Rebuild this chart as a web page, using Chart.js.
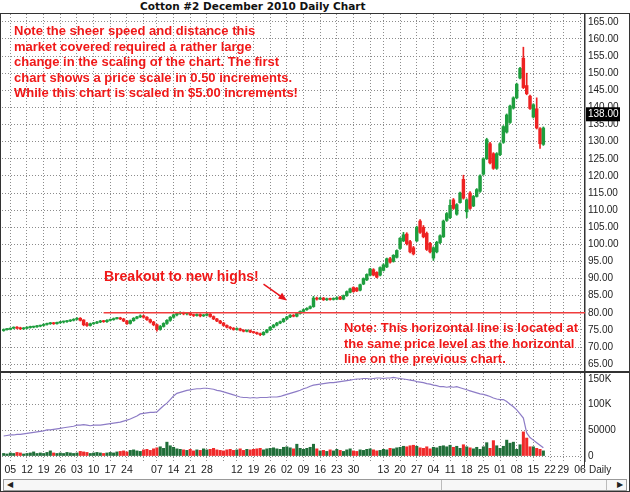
<!DOCTYPE html>
<html>
<head>
<meta charset="utf-8">
<script src="https://cdn.jsdelivr.net/npm/chart.js@4.4.1/dist/chart.umd.min.js"></script>
<style>
body { margin:0; background:#fff; }
#wrap { position:relative; width:630px; height:492px; overflow:hidden; font-family:'Liberation Sans', Arial, sans-serif; }
#title { position:absolute; left:140px; top:0; white-space:nowrap; font:bold 10.5px 'DejaVu Sans', Verdana, sans-serif; line-height:13px; color:#111; }
canvas { position:absolute; left:0; }
#price { top:14px; }
#vol { top:373px; }
.note { position:absolute; color:#f01818; font:bold 13px 'Liberation Sans', Arial, sans-serif; line-height:15.6px; white-space:nowrap; }
.line { position:absolute; background:#333; }
#daily { position:absolute; left:589px; top:464px; font:10px 'Liberation Sans', Arial, sans-serif; color:#222; }
#scroll { position:absolute; left:3px; top:479px; width:622px; height:10px; border:1px solid #999; background:#f7f7f7; font-size:8px; line-height:10px; color:#222; }
</style>
</head>
<body>
<div id="wrap">
  <div id="title">Cotton #2 December 2010 Daily Chart</div>
  <canvas id="price" width="630" height="358"></canvas>
  <canvas id="vol" width="630" height="105"></canvas>
  <div class="line" style="left:0;top:13px;width:630px;height:1px"></div>
  <div class="line" style="left:0;top:371px;width:630px;height:2px"></div>
  <div class="line" style="left:0;top:13px;width:1px;height:479px"></div>
  <div class="line" style="left:629px;top:13px;width:1px;height:479px"></div>
  <div class="line" style="left:584px;top:373px;width:1px;height:95px"></div>
  <div class="line" style="left:0;top:491px;width:630px;height:1px"></div>
  <div class="note" style="left:14px;top:23px">Note the sheer speed and distance this<br>market covered required a rather large<br>change in the scaling of the chart. The first<br>chart shows a price scale in 0.50 increments.<br>While this chart is scaled in $5.00 increments!</div>
  <div class="note" style="left:104px;top:269px;font-size:14px">Breakout to new highs!</div>
  <div class="note" style="left:344px;top:320px">Note: This horizontal line is located at<br>the same price level as the horizontal<br>line on the previous chart.</div>
  <div id="daily">Daily</div>
  <div id="scroll">
    <span style="position:absolute;left:3px;top:0">&#9664;</span>
    <span style="position:absolute;left:437px;top:0;width:1px;height:10px;background:#bbb"></span>
    <span style="position:absolute;left:602px;top:0;width:1px;height:10px;background:#bbb"></span>
    <span style="position:absolute;right:3px;top:0">&#9654;</span>
  </div>
</div>
<script>
// trading days, Mar 31 to Dec 7 2010 (holidays have no slot)
const dates = [
  '03-31','04-01','04-05','04-06','04-07','04-08','04-09','04-12','04-13','04-14','04-15','04-16',
  '04-19','04-20','04-21','04-22','04-23','04-26','04-27','04-28','04-29','04-30',
  '05-03','05-04','05-05','05-06','05-07','05-10','05-11','05-12','05-13','05-14',
  '05-17','05-18','05-19','05-20','05-21','05-24','05-25','05-26','05-27','05-28',
  '06-01','06-02','06-03','06-04','06-07','06-08','06-09','06-10','06-11','06-14','06-15','06-16','06-17','06-18',
  '06-21','06-22','06-23','06-24','06-25','06-28','06-29','06-30',
  '07-01','07-02','07-06','07-07','07-08','07-09','07-12','07-13','07-14','07-15','07-16',
  '07-19','07-20','07-21','07-22','07-23','07-26','07-27','07-28','07-29','07-30',
  '08-02','08-03','08-04','08-05','08-06','08-09','08-10','08-11','08-12','08-13',
  '08-16','08-17','08-18','08-19','08-20','08-23','08-24','08-25','08-26','08-27','08-30','08-31',
  '09-01','09-02','09-03','09-07','09-08','09-09','09-10','09-13','09-14','09-15','09-16','09-17',
  '09-20','09-21','09-22','09-23','09-24','09-27','09-28','09-29','09-30',
  '10-01','10-04','10-05','10-06','10-07','10-08','10-11','10-12','10-13','10-14','10-15',
  '10-18','10-19','10-20','10-21','10-22','10-25','10-26','10-27','10-28','10-29',
  '11-01','11-02','11-03','11-04','11-05','11-08','11-09','11-10','11-11','11-12',
  '11-15','11-16','11-17','11-18','11-19','11-22','11-23','11-24','11-26','11-29','11-30',
  '12-01','12-02','12-03','12-06','12-07'
];

const open = [
  74.8,75.1,75.2,75.5,75.8,75.6,75.3,75.5,75.7,75.8,
  75.9,76.1,76.3,76.6,76.8,77.0,76.8,77.1,77.3,77.4,
  77.6,77.8,78.1,78.4,77.9,76.8,76.3,76.8,77.0,77.3,
  77.6,77.4,77.8,78.0,78.3,78.5,78.2,77.6,76.9,77.7,
  78.4,78.8,79.1,78.7,78.0,77.3,76.5,75.2,76.0,76.9,
  77.8,78.7,79.4,79.8,80.0,79.7,79.9,79.4,79.2,79.5,
  79.1,79.3,79.6,78.9,78.2,77.6,77.0,76.3,75.8,75.5,
  75.1,75.3,74.9,74.6,74.8,74.4,74.2,73.9,73.6,74.3,
  75.0,75.8,76.4,77.0,77.4,78.2,78.8,79.3,79.0,79.8,
  80.4,80.9,81.3,81.8,84.3,84.0,84.3,83.8,84.1,83.9,
  84.0,84.6,84.0,85.0,86.0,87.4,87.2,86.6,88.4,89.6,
  91.0,92.6,91.8,91.0,92.4,93.4,95.8,95.0,96.2,98.8,
  101.0,103.0,100.8,99.0,101.0,106.8,105.0,103.2,100.3,96.0,
  97.8,100.5,102.2,107.0,107.8,113.0,108.8,112.2,119.0,109.5,
  115.0,111.2,114.0,115.5,120.5,125.0,129.4,126.5,122.2,126.2,
  129.8,132.8,135.6,139.8,142.8,148.6,154.4,146.4,143.3,137.2,
  139.6,133.8,129.2
];
const high = [
  75.3,75.4,75.6,75.9,76.0,75.8,75.7,75.9,76.1,76.1,
  76.3,76.4,76.8,77.0,77.2,77.2,77.3,77.5,77.6,77.8,
  78.0,78.3,78.6,78.6,78.0,77.2,77.0,77.2,77.5,77.8,
  77.8,78.0,78.2,78.5,78.7,78.7,78.4,77.8,77.9,78.6,
  79.0,79.4,79.3,78.9,78.2,77.5,76.7,76.3,77.1,78.0,
  78.9,79.6,80.1,80.3,80.2,80.1,80.0,79.6,79.7,79.7,
  79.5,79.9,79.8,79.1,78.4,77.8,77.2,76.5,76.0,75.7,
  75.6,75.5,75.1,75.0,75.0,74.6,74.4,74.1,74.5,75.2,
  76.0,76.6,77.2,77.6,78.4,79.0,79.5,79.5,80.0,80.6,
  81.1,81.5,82.0,84.8,84.6,84.5,84.5,84.3,84.3,84.4,
  84.7,84.8,85.2,86.4,87.2,87.6,87.4,88.4,90.2,91.4,
  93.0,92.9,92.0,93.4,94.3,96.0,96.2,97.0,98.4,102.0,
  103.5,103.4,101.2,99.4,105.3,107.2,105.5,103.6,100.6,99.3,
  100.9,102.8,107.1,109.3,113.0,113.4,111.9,115.3,120.2,113.3,
  115.4,114.3,116.3,120.3,125.3,131.0,129.8,126.8,126.8,129.7,
  134.7,138.1,140.7,143.1,147.1,151.7,157.6,150.0,143.6,141.1,
  142.8,134.1,134.3
];
const low = [
  74.6,74.9,75.0,75.3,75.3,75.1,75.1,75.3,75.5,75.6,
  75.7,75.9,76.1,76.4,76.6,76.6,76.7,76.9,77.0,77.2,
  77.4,77.6,77.9,77.6,76.2,76.0,76.1,76.6,76.8,77.1,
  77.2,77.2,77.6,77.8,78.1,78.0,77.4,76.6,76.7,77.5,
  78.2,78.6,78.4,77.8,77.0,76.2,74.6,74.9,75.8,76.6,
  77.5,78.4,79.1,79.5,79.4,79.4,79.2,78.9,79.0,78.8,
  78.9,79.1,78.7,78.0,77.4,76.8,76.1,75.6,75.3,74.9,
  74.9,74.7,74.4,74.4,74.2,74.0,73.7,73.3,73.4,74.1,
  74.8,75.6,76.2,76.8,77.2,78.0,78.6,78.8,78.8,79.6,
  80.2,80.7,81.1,81.6,83.7,83.8,83.6,83.6,83.7,83.7,
  83.8,83.8,83.8,84.8,85.8,86.0,86.2,86.4,88.2,89.4,
  90.8,90.8,90.2,90.8,92.2,93.2,94.5,94.8,96.0,98.5,
  100.8,99.8,97.5,96.9,100.8,103.2,101.9,98.2,97.5,95.3,
  97.5,100.2,102.0,106.7,107.5,110.2,108.5,112.0,113.2,107.8,
  110.2,111.0,113.8,115.2,120.2,124.8,123.5,121.9,121.9,125.9,
  129.5,132.5,135.3,139.5,142.5,148.3,145.5,143.7,139.4,136.9,
  133.7,128.0,128.9
];
const close = [
  75.1,75.3,75.5,75.7,75.5,75.3,75.6,75.8,76.0,75.9,
  76.1,76.3,76.6,76.9,77.0,76.8,77.2,77.3,77.4,77.6,
  77.8,78.1,78.4,77.8,76.5,76.3,76.8,77.0,77.3,77.6,
  77.4,77.8,78.0,78.3,78.5,78.2,77.6,76.8,77.7,78.4,
  78.8,79.1,78.7,78.0,77.3,76.5,75.2,76.0,76.9,77.8,
  78.7,79.4,79.8,80.0,79.7,79.9,79.4,79.2,79.5,79.1,
  79.3,79.6,78.9,78.2,77.6,77.0,76.3,75.8,75.5,75.1,
  75.3,74.9,74.6,74.8,74.4,74.2,73.9,73.6,74.3,75.0,
  75.8,76.4,77.0,77.4,78.2,78.8,79.3,79.0,79.8,80.4,
  80.9,81.3,81.8,84.3,84.0,84.3,83.8,84.1,83.9,84.2,
  84.4,84.0,85.0,86.2,87.0,86.2,86.4,88.2,90.0,91.2,
  92.8,91.0,90.4,93.2,94.0,95.8,94.8,96.8,98.2,101.8,
  102.8,100.2,97.8,97.2,105.0,103.5,102.2,98.5,97.8,99.0,
  100.6,102.5,106.8,109.0,111.4,110.5,111.6,115.0,113.5,113.0,
  110.5,114.0,116.0,120.0,125.0,130.6,123.8,122.2,126.5,129.4,
  134.4,137.8,140.4,142.8,146.8,151.4,145.8,144.0,139.7,140.8,
  134.0,129.4,134.0
];
// daily volume and open interest, thousands of contracts
const volume = [
  5,4,6,5,7,6,4,5,6,8,
  5,6,5,7,10,6,5,6,5,7,
  6,5,6,9,8,7,5,6,7,6,
  5,6,7,6,8,9,10,8,11,12,
  10,9,12,13,11,14,16,18,15,27,
  20,17,14,13,12,11,13,10,12,11,
  14,12,13,15,12,11,10,12,13,11,
  12,14,11,13,12,13,14,15,12,14,
  15,16,14,13,17,18,16,14,23,15,
  13,15,17,23,14,10,11,9,12,10,
  13,11,9,12,14,10,9,12,11,13,
  14,12,10,11,13,12,15,14,16,17,
  19,18,20,21,19,16,15,18,14,17,
  16,19,20,18,21,17,19,15,22,18,
  16,14,17,13,18,26,15,30,20,15,
  19,31,25,27,13,22,47,35,18,18,
  15,13,10
];
const openInterest = [
  39,40,41,41,42,42,43,44,45,46,
  47,48,49,51,51,52,53,54,55,56,
  57,58,60,60,61,60,59,60,60,60,
  61,62,63,64,65,66,68,70,72,75,
  78,82,83,84,85,85,86,92,98,103,
  110,117,122,124,126,128,129,130,131,131,
  132,132,131,130,128,127,125,123,121,119,
  117,115,114,114,113,114,113,114,114,114,
  115,115,115,116,118,120,122,124,126,128,
  131,133,136,138,139,140,141,142,143,143,
  144,145,146,147,148,149,150,150,151,151,
  150,151,152,152,151,152,152,153,152,151,
  150,149,148,147,145,144,143,141,140,138,
  137,135,135,134,135,134,135,133,131,129,
  127,125,123,121,120,118,116,113,111,110,
  110,106,101,96,90,82,74,45,36,31,
  26,21,16
];

const priceTicks = [65,70,75,80,85,90,95,100,105,110,115,120,125,130,135,140,145,150,155,160,165];
const volTicks = [0,50,100,150];
const volTickLabels = ['0','50000','100K','150K'];
const refLevel = 80;
const refStart = '05-13';
const lastPrice = 138.00;
const arrowFrom = [78, 88.4];
const arrowTo = [85, 83.6];

// weekly grid: first trading day of each week, labelled only when it is a Monday
const dayOf = s => new Date(2010, +s.slice(0,2) - 1, +s.slice(3)).getDay();
const weekStarts = [];
dates.forEach((d, i) => { if (i > 0 && dayOf(d) <= dayOf(dates[i-1])) weekStarts.push(i); });
const weekLabel = i => dayOf(dates[i]) === 1 ? dates[i].slice(3) : '';

const green = '#1e9e3e', red = '#ee2222';
const candleColors = close.map((c, i) => c >= open[i] ? green : red);
const volColors = close.map((c, i) => c >= open[i] ? '#1f6e38' : '#f02a2a');

Chart.defaults.font.family = "'Liberation Sans', Arial, sans-serif";
Chart.defaults.font.size = 10;
Chart.defaults.color = '#222';

const gridOpts = { color: '#8c8c8c', offset: false, drawTicks: false };
const xAxis = (showLabels) => ({
  offset: true,
  grid: gridOpts,
  border: { display: false, dash: [1, 2] },
  ticks: { display: showLabels, autoSkip: false, maxRotation: 0, padding: 3,
           font: { size: 10.5 }, callback: v => weekLabel(v) },
  afterBuildTicks: s => { s.ticks = weekStarts.map(i => ({ value: i })); },
  afterFit: s => { s.height = showLabels ? 17 : 0; s.paddingLeft = 0; s.paddingRight = 0; }
});
const yAxis = (min, max, ticks, label) => ({
  position: 'right', min: min, max: max,
  grid: { color: '#8c8c8c', drawTicks: false },
  border: { display: true, color: '#333', width: 1.5, dash: [1, 2] },
  ticks: { padding: 3, callback: label },
  afterBuildTicks: s => { s.ticks = ticks.map(v => ({ value: v })); },
  afterFit: s => { s.width = 45; s.paddingTop = 0; s.paddingBottom = 0; }
});

const marks = {
  id: 'marks',
  afterDatasetsDraw(chart) {
    const { ctx, chartArea, scales: { x, y } } = chart;
    ctx.save();
    // horizontal reference line
    const ly = y.getPixelForValue(refLevel);
    ctx.strokeStyle = '#f03c3c';
    ctx.lineWidth = 1.5;
    ctx.beginPath();
    ctx.moveTo(x.getPixelForValue(dates.indexOf(refStart)), ly);
    ctx.lineTo(chartArea.right, ly);
    ctx.stroke();
    // breakout arrow
    const x1 = x.getPixelForValue(arrowFrom[0]), y1 = y.getPixelForValue(arrowFrom[1]);
    const x2 = x.getPixelForValue(arrowTo[0]), y2 = y.getPixelForValue(arrowTo[1]);
    const a = Math.atan2(y2 - y1, x2 - x1);
    ctx.strokeStyle = ctx.fillStyle = '#e8141b';
    ctx.lineWidth = 1.5;
    ctx.beginPath(); ctx.moveTo(x1, y1); ctx.lineTo(x2 - 6 * Math.cos(a), y2 - 6 * Math.sin(a)); ctx.stroke();
    ctx.beginPath();
    ctx.moveTo(x2, y2);
    ctx.lineTo(x2 - 9 * Math.cos(a - 0.4), y2 - 9 * Math.sin(a - 0.4));
    ctx.lineTo(x2 - 9 * Math.cos(a + 0.4), y2 - 9 * Math.sin(a + 0.4));
    ctx.closePath(); ctx.fill();
    ctx.restore();
  },
  afterDraw(chart) {
    const { ctx, chartArea, scales: { y } } = chart;
    const py = y.getPixelForValue(lastPrice);
    ctx.save();
    ctx.fillStyle = '#000';
    ctx.fillRect(chartArea.right + 1, py - 7, 34, 14);
    ctx.fillStyle = '#fff';
    ctx.font = "10px 'Liberation Sans', Arial, sans-serif";
    ctx.textBaseline = 'middle';
    ctx.fillText(lastPrice.toFixed(2), chartArea.right + 3, py);
    ctx.restore();
  }
};

new Chart(document.getElementById('price'), {
  type: 'bar',
  data: {
    labels: dates,
    datasets: [
      { data: open.map((o, i) => [o, close[i]]), backgroundColor: candleColors,
        barThickness: 2.8, minBarLength: 1, grouped: false, order: 0 },
      { data: low.map((l, i) => [l, high[i]]), backgroundColor: candleColors,
        barThickness: 1, grouped: false, order: 1 }
    ]
  },
  options: {
    animation: false, responsive: false,
    layout: { padding: { left: 2 } },
    plugins: { legend: { display: false }, tooltip: { enabled: false } },
    scales: {
      x: xAxis(false),
      y: yAxis(62.7, 167.3, priceTicks, v => Number(v).toFixed(2))
    }
  },
  plugins: [marks]
});

new Chart(document.getElementById('vol'), {
  type: 'bar',
  data: {
    labels: dates,
    datasets: [
      { type: 'line', data: openInterest, borderColor: '#8d7cc6', borderWidth: 1.2,
        pointRadius: 0, tension: 0, order: 0 },
      { data: volume, backgroundColor: volColors, barThickness: 2.4, grouped: false, order: 1 }
    ]
  },
  options: {
    animation: false, responsive: false,
    layout: { padding: { left: 2 } },
    plugins: { legend: { display: false }, tooltip: { enabled: false } },
    scales: {
      x: xAxis(true),
      y: yAxis(-9.7, 161.7, volTicks, v => volTickLabels[volTicks.indexOf(v)])
    }
  }
});
</script>
</body>
</html>
